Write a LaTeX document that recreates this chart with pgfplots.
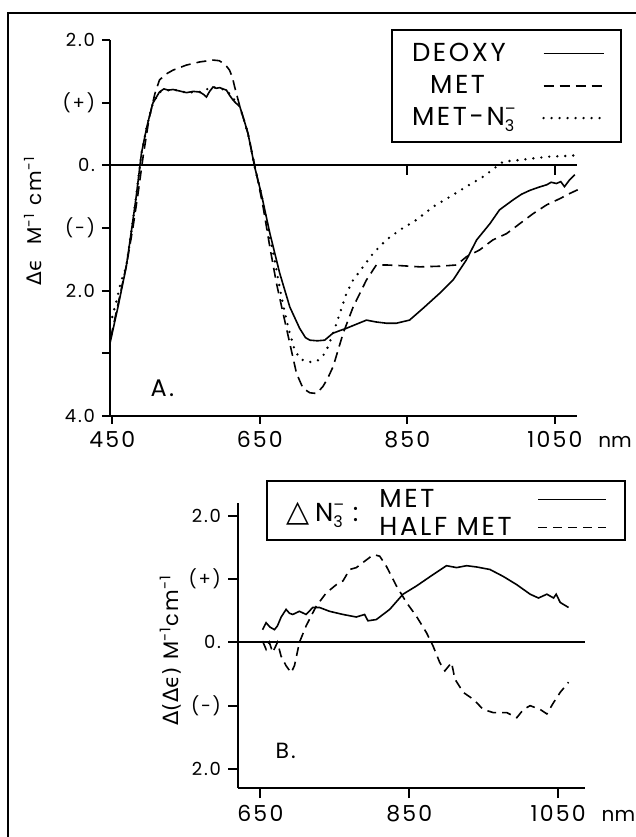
\documentclass[border=0pt]{standalone}
\usepackage{pgfplots}
\pgfplotsset{compat=1.18}
\usepackage{fontspec}
\setmainfont{Poppins}[LetterSpace=10]
\newfontfamily\dejavu{DejaVu Sans}

% curve styles
\tikzset{
  cdeoxy/.style={black, line width=0.8pt},
  cmet/.style={black, line width=0.8pt, dash pattern=on 5pt off 3pt},
  cazide/.style={black, line width=1.3pt, line cap=round, dash pattern=on 0pt off 4pt},
}
\newcommand{\azide}{N\rlap{\raisebox{5.5pt}{\fontsize{8}{8}\selectfont --}}\raisebox{-3pt}{\fontsize{8}{8}\selectfont 3}}
\newcommand{\nmunit}{\rlap{\hspace{8pt}\fontsize{10}{10}\selectfont\addfontfeature{LetterSpace=0}nm}}

\pgfplotstableread{
nm   de
447 -2.84
458 -2.25
469 -1.62
476 -1.05
482.5 -0.50
489.6 0.19
497 0.62
505 0.99
514 1.17
520 1.22
526 1.20
532.5 1.21
540 1.19
550.6 1.16
560 1.18
568.6 1.17
574 1.13
577.7 1.09
582 1.18
586.7 1.25
591 1.23
595.8 1.24
600 1.22
604.8 1.20
609 1.12
613.8 1.04
618 0.99
622.9 0.94
628 0.75
634 0.51
643 -0.02
652 -0.45
663.6 -1.08
677 -1.72
690.7 -2.26
704 -2.60
712 -2.75
718 -2.79
728 -2.80
738 -2.79
749 -2.68
758 -2.64
767.5 -2.60
780 -2.54
794.6 -2.47
808 -2.50
822 -2.52
835 -2.52
853 -2.47
871.5 -2.28
894 -2.04
912 -1.83
930 -1.51
944 -1.19
962 -0.93
975 -0.71
993.5 -0.55
1005 -0.46
1016 -0.40
1028 -0.35
1039 -0.31
1045 -0.27
1052 -0.29
1058 -0.26
1063 -0.34
1070 -0.23
1077 -0.15
}\deoxy

\pgfplotstableread{
nm   de
448 -2.75
460 -2.10
470 -1.55
478 -1.00
485 -0.45
492 0.15
500 0.75
508 1.15
514 1.36
522 1.45
532.5 1.52
550.6 1.60
568.6 1.65
586.7 1.68
595 1.67
600.3 1.63
605 1.58
609 1.52
613 1.40
616 1.25
623 0.94
634 0.51
645.5 -0.13
654.5 -0.66
663.6 -1.30
672.6 -1.88
681.6 -2.36
690.7 -2.84
699.8 -3.32
708.7 -3.56
718 -3.63
727 -3.64
735.6 -3.53
742 -3.40
749.5 -3.21
763 -2.68
776.6 -2.26
794.6 -1.83
808 -1.59
821.5 -1.59
840 -1.60
867 -1.62
894 -1.61
916.7 -1.59
930 -1.46
948 -1.35
966 -1.19
984.5 -1.09
1002.5 -0.93
1020.6 -0.77
1039 -0.63
1057 -0.53
1070 -0.45
1081 -0.39
}\met

\pgfplotstableread{
nm   de
450 -2.42
455 -2.20
462 -1.85
469 -1.62
476 -1.05
482.5 -0.50
489.6 0.19
497 0.62
505 0.99
514 1.17
532.5 1.21
550.6 1.16
568.6 1.17
586.7 1.25
604.8 1.20
622.9 0.94
634 0.51
643 -0.02
652 -0.45
663 -1.12
670 -1.50
677 -1.95
683 -2.30
690 -2.65
697 -2.93
704 -3.08
712 -3.13
720 -3.14
728 -3.12
735 -3.05
740.5 -2.95
749.5 -2.68
758.6 -2.36
767.6 -2.04
776.6 -1.83
790 -1.62
804 -1.40
821.5 -1.19
840 -1.03
862.5 -0.87
885 -0.66
908 -0.50
930 -0.34
953 -0.18
971 -0.02
980 0.06
998 0.08
1020 0.11
1043 0.14
1066 0.15
1079 0.16
}\metazide

\pgfplotstableread{
nm   dd
653 0.20
657.7 0.31
663 0.24
669 0.20
673 0.26
678 0.40
684.6 0.52
689 0.46
693.5 0.44
702.5 0.49
711.5 0.44
720.4 0.55
729.5 0.55
742.9 0.49
761 0.44
778.9 0.40
790 0.44
794.5 0.34
805.8 0.36
823.7 0.52
841.6 0.76
859.7 0.89
882 1.07
900 1.21
913.6 1.18
927 1.21
940.5 1.19
958.4 1.15
976.3 1.04
994.4 0.91
1012.3 0.76
1023.5 0.70
1034.8 0.76
1043.8 0.70
1047.3 0.76
1052.7 0.63
1063.9 0.55
}\dmet

\pgfplotstableread{
nm   dd
653 0.02
657.7 -0.11
662 0.00
666.6 -0.16
673 0.00
677.9 -0.22
684.6 -0.37
691.3 -0.48
695.8 -0.37
702.5 0.00
711.5 0.26
725 0.57
738.5 0.78
752 0.91
761 0.97
770 1.15
778.9 1.18
787.8 1.26
799 1.36
804 1.38
810.3 1.36
819.3 1.20
832.8 0.89
846.2 0.63
859.7 0.41
873.2 0.15
882 -0.06
891 -0.32
897.8 -0.45
906.8 -0.32
911.3 -0.58
922.5 -0.79
936 -0.90
949.4 -1.06
962.9 -1.11
981 -1.11
994.4 -1.19
1003.3 -1.06
1012.3 -1.00
1025.8 -1.06
1034.8 -1.13
1043.8 -0.95
1052.7 -0.79
1063.9 -0.63
}\dhalfmet

\begin{document}
\begin{tikzpicture}
\useasboundingbox (0,0) rectangle (318pt,418.5pt);
% outer frame (top and left edges)
\draw[line width=1pt] (4.2pt,0) -- (4.2pt,412.2pt) -- (318pt,412.2pt);

% ---------- panel A ----------
\begin{axis}[
  at={(55pt,210.5pt)}, anchor=south west,
  scale only axis, width=233.5pt, height=188pt,
  xmin=447, xmax=1080, ymin=-4, ymax=2,
  axis x line*=bottom, axis y line*=left,
  axis line style={-, line width=0.9pt},
  tick align=outside, major tick length=4pt,
  tick style={black, line width=0.9pt},
  xtick={450,650,850,1050},
  xticklabels={450,650,850,{1050\nmunit}},
  ytick={2,1,0,-1,-2,-3,-4},
  yticklabels={2.0,{(+)\hspace{7pt}},0.,{(-)\hspace{7pt}},2.0,,4.0},
  xticklabel style={font=\fontsize{11}{12}\selectfont},
  yticklabel style={font=\fontsize{9}{10}\selectfont},
  clip=false,
  legend style={at={(axis description cs:0.602,1.029)}, anchor=north west,
    draw=black, line width=0.9pt, fill=none,
    font=\fontsize{13}{13}\selectfont,
    inner xsep=8pt, inner ysep=4.5pt, row sep=1.5pt, column sep=12pt},
  legend plot pos=right, legend cell align=left,
  legend image code/.code={\draw[#1] (0pt,0pt) -- (30pt,0pt);},
]
\draw[line width=0.9pt] (axis cs:447,0) -- (axis cs:1080,0);
\draw[line width=0.9pt] (axis cs:850,0) -- ([yshift=-5pt]axis cs:850,0);
\draw[line width=0.9pt] (axis cs:1050,0) -- ([yshift=-5pt]axis cs:1050,0);
\addplot[cdeoxy] table[x=nm,y=de] {\deoxy};
\addplot[cmet] table[x=nm,y=de] {\met};
\addplot[cazide] table[x=nm,y=de] {\metazide};
\legend{DEOXY,{\hspace*{9pt}MET},{MET-\azide}}
\node[font=\fontsize{12}{12}\selectfont] at (axis cs:518,-3.55) {A.};
\node[rotate=90, font=\fontsize{10}{12}\selectfont] at (axis description cs:-0.165,0.52)
  {{\dejavu Δϵ}\ \ M\textsuperscript{-1} cm\textsuperscript{-1}};
\end{axis}

% ---------- panel B ----------
\begin{axis}[
  at={(119pt,24.5pt)}, anchor=south west,
  scale only axis, width=173.5pt, height=142.5pt,
  xmin=620, xmax=1086, ymin=-2.3, ymax=2.2,
  axis x line*=bottom, axis y line*=left,
  axis line style={-, line width=0.9pt},
  tick align=outside, major tick length=5pt,
  tick style={black, line width=0.9pt},
  xtick={650,850,1050},
  xticklabels={650,850,{1050\nmunit}},
  ytick={2,1,0,-1,-2},
  yticklabels={2.0,{(+)\hspace{3pt}},0.,{(-)\hspace{3pt}},2.0},
  xticklabel style={font=\fontsize{11}{12}\selectfont},
  yticklabel style={font=\fontsize{9}{10}\selectfont},
  clip=false,
  legend style={at={(axis description cs:0.395,1.065)}, anchor=north west,
    draw=none, fill=none,
    font=\fontsize{13}{13}\selectfont,
    inner xsep=0pt, inner ysep=0pt, row sep=-0.5pt, column sep=11pt},
  legend plot pos=right, legend cell align=left,
  legend image code/.code={\draw[#1] (0pt,0pt) -- (34pt,0pt);},
]
\draw[line width=0.9pt] (axis cs:620,0) -- (axis cs:1086,0);
\addplot[cdeoxy] table[x=nm,y=dd] {\dmet};
\addplot[black, line width=0.8pt, dash pattern=on 4.5pt off 3pt] table[x=nm,y=dd] {\dhalfmet};
\legend{MET,HALF MET}
% legend frame and the shared prefix
\draw[line width=0.9pt] (axis description cs:0.0836,1.077) rectangle (axis description cs:1.115,0.870);
\node[anchor=west, font=\fontsize{13}{13}\selectfont] at (axis description cs:0.118,0.958)
  {{\dejavu\fontsize{15}{15}\selectfont △}\hspace{3pt}\azide\hspace{5pt}:};
\node[font=\fontsize{11}{11}\selectfont] at (axis cs:684,-1.72) {B.};
\node[rotate=90, font=\fontsize{10.5}{12}\selectfont] at (axis description cs:-0.195,0.484)
  {{\dejavu Δ(Δϵ)}\ M\textsuperscript{-1}cm\textsuperscript{-1}};
\end{axis}
\end{tikzpicture}
\end{document}
